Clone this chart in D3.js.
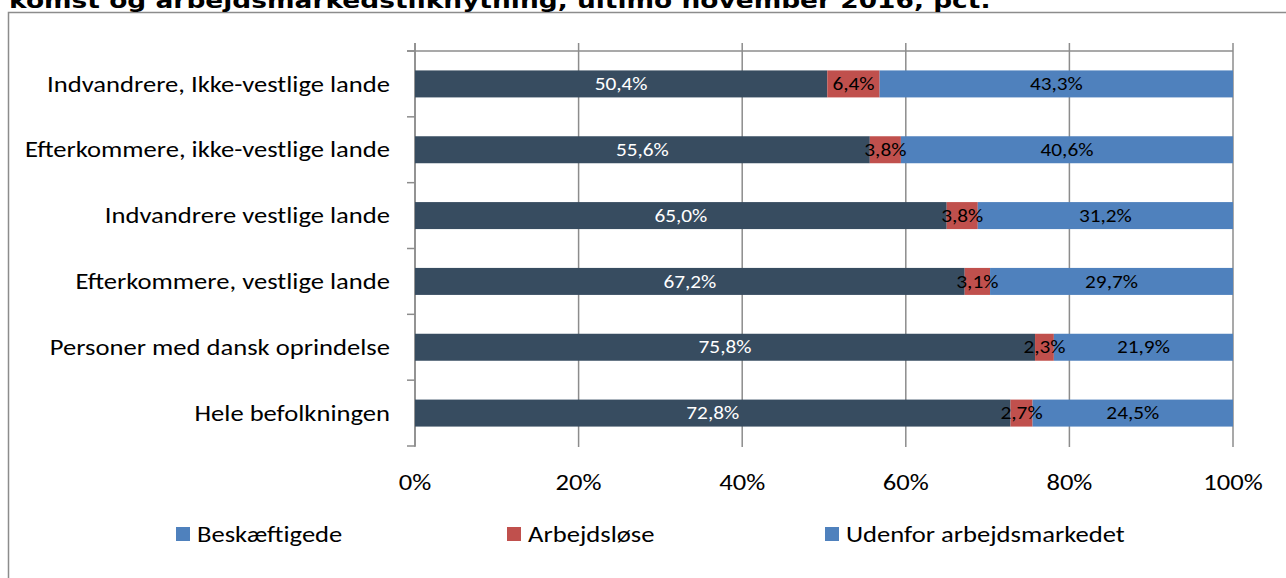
<!DOCTYPE html>
<html>
<head>
<meta charset="utf-8">
<script src="https://cdn.jsdelivr.net/npm/d3@7"></script>
<style>
  body { margin: 0; background: #fff; }
  svg { display: block; }
</style>
</head>
<body>
<svg id="chart" width="1286" height="578"></svg>
<script>
const categories = [
  'Indvandrere, Ikke-vestlige lande',
  'Efterkommere, ikke-vestlige lande',
  'Indvandrere vestlige lande',
  'Efterkommere, vestlige lande',
  'Personer med dansk oprindelse',
  'Hele befolkningen'
]
const beskaeftigede = [50.4, 55.6, 65.0, 67.2, 75.8, 72.8]
const arbejdsloese = [6.4, 3.8, 3.8, 3.1, 2.3, 2.7]
const udenfor = [43.3, 40.6, 31.2, 29.7, 21.9, 24.5]
const seriesNames = ['Beskæftigede', 'Arbejdsløse', 'Udenfor arbejdsmarkedet']
const tickValues = [0, 20, 40, 60, 80, 100]

const WIDTH = 1286
const HEIGHT = 578
const MARGINS = { top: 51, right: 53, bottom: 132, left: 415 }

const barColors = ['#374c60', '#c0504d', '#4f81bd']
const legendColors = ['#4f81bd', '#c0504d', '#4f81bd']
const labelColors = ['#ffffff', '#000000', '#000000']
const font = 'Carlito, Calibri, "Open Sans", sans-serif'
// the original chart text is stretched sideways
const STRETCH = 1.21

const place = (x, y, sx = STRETCH) => `translate(${x}, ${y}) scale(${sx}, 1)`

const svg = d3.select('#chart')

// outer frame, runs past the right and bottom edges
svg.append('rect')
  .attr('x', 8.5).attr('y', 12.5)
  .attr('width', 1400).attr('height', 700)
  .attr('fill', 'none')
  .attr('stroke', '#8c8c8c')
  .attr('stroke-width', 1.5)

svg.append('text')
  .attr('transform', place(9, 8, 1.26))
  .attr('font-family', '"DejaVu Sans", Verdana, sans-serif')
  .attr('font-weight', 'bold')
  .attr('font-size', 21)
  .attr('fill', '#000')
  .text('komst og arbejdsmarkedstilknytning, ultimo november 2016, pct.')

const xScale = d3.scaleLinear()
  .domain([0, 100])
  .range([MARGINS.left, WIDTH - MARGINS.right])

const yScale = d3.scaleBand()
  .domain(categories)
  .range([MARGINS.top, HEIGHT - MARGINS.bottom])
  .paddingInner(0.59)
  .paddingOuter(0.295)

const plotTop = MARGINS.top
const plotBottom = HEIGHT - MARGINS.bottom

// vertical gridlines
svg.append('g')
  .selectAll('line')
  .data(tickValues)
  .join('line')
  .attr('x1', d => xScale(d)).attr('x2', d => xScale(d))
  .attr('y1', plotTop - 8).attr('y2', plotBottom + 1)
  .attr('stroke', '#8c8c8c')
  .attr('stroke-width', 1.5)

// top line across the plot
svg.append('line')
  .attr('x1', xScale(0) - 8).attr('x2', xScale(100))
  .attr('y1', plotTop).attr('y2', plotTop)
  .attr('stroke', '#8c8c8c')
  .attr('stroke-width', 1.5)

// category axis on the left, ticks between categories
const boundaries = d3.range(categories.length + 1).map(i => plotTop + i * (plotBottom - plotTop) / categories.length)
svg.append('g')
  .selectAll('line')
  .data(boundaries)
  .join('line')
  .attr('x1', xScale(0) - 8).attr('x2', xScale(0))
  .attr('y1', d => d).attr('y2', d => d)
  .attr('stroke', '#8c8c8c')
  .attr('stroke-width', 1.5)

svg.append('line')
  .attr('x1', xScale(0)).attr('x2', xScale(0))
  .attr('y1', plotTop - 8).attr('y2', plotBottom)
  .attr('stroke', '#8c8c8c')
  .attr('stroke-width', 1.5)

// stacked bars
const rows = categories.map((c, i) => ({
  category: c,
  values: [beskaeftigede[i], arbejdsloese[i], udenfor[i]]
}))

const segments = []
rows.forEach(r => {
  let start = 0
  r.values.forEach((v, k) => {
    const end = Math.min(start + v, 100)
    segments.push({ category: r.category, k, start, end, value: v })
    start += v
  })
})

svg.append('g')
  .selectAll('rect')
  .data(segments)
  .join('rect')
  .attr('x', d => xScale(d.start))
  .attr('width', d => xScale(d.end) - xScale(d.start))
  .attr('y', d => yScale(d.category))
  .attr('height', yScale.bandwidth())
  .attr('fill', d => barColors[d.k])

svg.append('g')
  .selectAll('text')
  .data(segments)
  .join('text')
  .attr('transform', d => place((xScale(d.start) + xScale(d.end)) / 2, yScale(d.category) + yScale.bandwidth() / 2))
  .attr('dy', '0.35em')
  .attr('text-anchor', 'middle')
  .attr('font-family', font)
  .attr('font-size', 17.6)
  .attr('fill', d => labelColors[d.k])
  .text(d => d3.format('.1f')(d.value).replace('.', ',') + '%')

// category labels
svg.append('g')
  .selectAll('text')
  .data(categories)
  .join('text')
  .attr('transform', d => place(390, yScale(d) + yScale.bandwidth() / 2))
  .attr('dy', '0.35em')
  .attr('text-anchor', 'end')
  .attr('font-family', font)
  .attr('font-size', 22)
  .attr('fill', '#000')
  .text(d => d)

// value axis labels
svg.append('g')
  .selectAll('text')
  .data(tickValues)
  .join('text')
  .attr('transform', d => place(xScale(d), 482))
  .attr('dy', '0.35em')
  .attr('text-anchor', 'middle')
  .attr('font-family', font)
  .attr('font-size', 22)
  .attr('fill', '#000')
  .text(d => d + '%')

// legend
const legendX = [176, 507, 825]
const legend = svg.append('g')
  .selectAll('g')
  .data(seriesNames)
  .join('g')
  .attr('transform', (d, i) => `translate(${legendX[i]}, 527)`)

legend.append('rect')
  .attr('width', 14).attr('height', 14)
  .attr('fill', (d, i) => legendColors[i])

legend.append('text')
  .attr('transform', place(21, 7))
  .attr('dy', '0.35em')
  .attr('font-family', font)
  .attr('font-size', 22)
  .attr('fill', '#000')
  .text(d => d)
</script>
</body>
</html>
